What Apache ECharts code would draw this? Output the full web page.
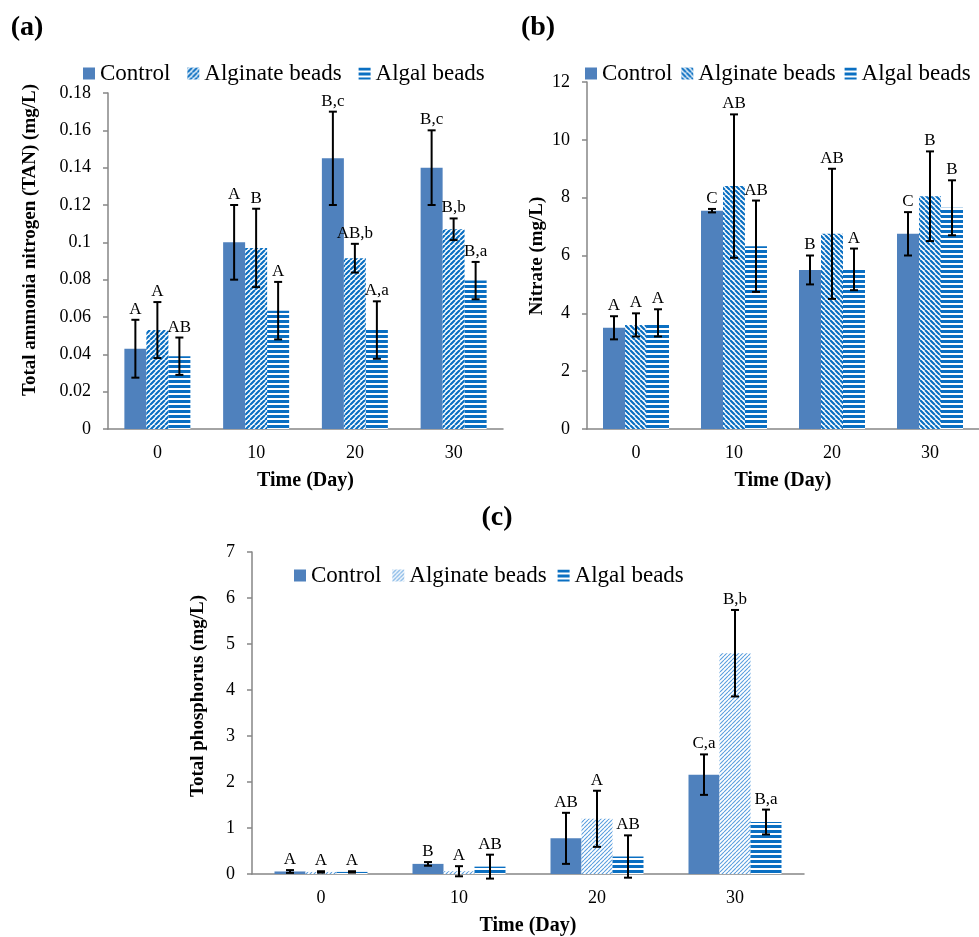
<!DOCTYPE html>
<html>
<head>
<meta charset="utf-8">
<script src="https://cdn.jsdelivr.net/npm/echarts@6/dist/echarts.min.js"></script>
<style>
  html, body { margin: 0; background: #fff; }
  #chart { width: 979px; height: 937px; }
</style>
</head>
<body>
<div id="chart"></div>
<script>
// categories
var days = ["0", "10", "20", "30"];

// (a) Total ammonia nitrogen (mg/L)
var tanControl = [0.043, 0.100, 0.145, 0.140];
var tanControlErr = [0.0155, 0.020, 0.025, 0.020];
var tanAlginate = [0.053, 0.097, 0.0915, 0.107];
var tanAlginateErr = [0.015, 0.021, 0.0077, 0.0058];
var tanAlgal = [0.039, 0.0634, 0.053, 0.0795];
var tanAlgalErr = [0.010, 0.0154, 0.0154, 0.010];
var tanControlLab = ["A", "A", "B,c", "B,c"];
var tanAlginateLab = ["A", "B", "AB,b", "B,b"];
var tanAlgalLab = ["AB", "A", "A,a", "B,a"];

// (b) Nitrate (mg/L)
var no3Control = [3.5, 7.55, 5.5, 6.75];
var no3ControlErr = [0.4, 0.06, 0.5, 0.75];
var no3Alginate = [3.6, 8.4, 6.75, 8.05];
var no3AlginateErr = [0.4, 2.48, 2.25, 1.55];
var no3Algal = [3.67, 6.32, 5.52, 7.65];
var no3AlgalErr = [0.47, 1.58, 0.72, 0.95];
var no3ControlLab = ["A", "C", "B", "C"];
var no3AlginateLab = ["A", "AB", "AB", "B"];
var no3AlgalLab = ["A", "AB", "A", "B"];

// (c) Total phosphorus (mg/L)
var tpControl = [0.055, 0.22, 0.775, 2.16];
var tpControlErr = [0.03, 0.04, 0.555, 0.44];
var tpAlginate = [0.045, 0.06, 1.2, 4.8];
var tpAlginateErr = [0.015, 0.11, 0.61, 0.94];
var tpAlgal = [0.045, 0.16, 0.38, 1.13];
var tpAlgalErr = [0.015, 0.26, 0.46, 0.27];
var tpControlLab = ["A", "B", "AB", "C,a"];
var tpAlginateLab = ["A", "A", "A", "B,b"];
var tpAlgalLab = ["A", "AB", "AB", "B,a"];

var FONT = '"Liberation Serif", "Times New Roman", serif';
var BLUE = "#4f81bd";
var STRIPE = "#0a6fc2";

// pattern tiles
function hatch(dir, color, lw, size) {
  var c = document.createElement("canvas");
  c.width = size; c.height = size;
  var g = c.getContext("2d");
  g.fillStyle = "#fff";
  g.fillRect(0, 0, size, size);
  g.strokeStyle = color;
  g.lineWidth = lw;
  g.beginPath();
  for (var k = -1; k <= 1; k++) {
    if (dir > 0) { g.moveTo(k * size, size); g.lineTo(k * size + size, 0); }
    else { g.moveTo(k * size, 0); g.lineTo(k * size + size, size); }
  }
  g.stroke();
  return c;
}
function hstripes(color, on, period) {
  var c = document.createElement("canvas");
  c.width = 4; c.height = period;
  var g = c.getContext("2d");
  g.fillStyle = "#fff";
  g.fillRect(0, 0, 4, period);
  g.fillStyle = color;
  g.fillRect(0, 0, 4, on);
  return c;
}
function pat(canvas) { return { image: canvas, repeat: "repeat" }; }

var patFwd = pat(hatch(1, STRIPE, 2.2, 5));
var patBack = pat(hatch(-1, STRIPE, 2.2, 5));
var patThin = pat(hatch(1, "#5a9ede", 1.1, 4));
var patH = pat(hstripes(STRIPE, 3, 5));

var series = [];

function panel(idx, key, groups, bw) {
  groups.forEach(function (gr) {
    series.push({
      type: "bar",
      name: key + gr.name,
      xAxisIndex: idx,
      yAxisIndex: idx,
      barWidth: bw,
      barGap: "0%",
      data: gr.vals,
      itemStyle: { color: gr.color },
      z: 2
    });
  });
  // error bars + letters
  groups.forEach(function (gr, k) {
    var off = (k - 1) * bw;
    series.push({
      type: "custom",
      xAxisIndex: idx,
      yAxisIndex: idx,
      z: 5,
      data: gr.vals.map(function (v, i) { return [i, v, gr.errs[i]]; }),
      renderItem: function (params, api) {
        var i = api.value(0), v = api.value(1), e = api.value(2);
        var t = api.coord([i, v + e]);
        var b = api.coord([i, v - e]);
        var x = t[0] + off;
        var cap = 4;
        var st = { stroke: "#000", lineWidth: 2 };
        return {
          type: "group",
          children: [
            { type: "line", shape: { x1: x, y1: t[1], x2: x, y2: b[1] }, style: st },
            { type: "line", shape: { x1: x - cap, y1: t[1], x2: x + cap, y2: t[1] }, style: st },
            { type: "line", shape: { x1: x - cap, y1: b[1], x2: x + cap, y2: b[1] }, style: st },
            {
              type: "text",
              style: {
                x: x, y: t[1] - 2,
                text: gr.labs[params.dataIndex],
                align: "center", verticalAlign: "bottom",
                font: "17px " + FONT, fill: "#000"
              }
            }
          ]
        };
      }
    });
  });
}

panel(0, "a:", [
  { name: "Control", vals: tanControl, errs: tanControlErr, labs: tanControlLab, color: BLUE },
  { name: "Alginate beads", vals: tanAlginate, errs: tanAlginateErr, labs: tanAlginateLab, color: patFwd },
  { name: "Algal beads", vals: tanAlgal, errs: tanAlgalErr, labs: tanAlgalLab, color: patH }
], 22);
panel(1, "b:", [
  { name: "Control", vals: no3Control, errs: no3ControlErr, labs: no3ControlLab, color: BLUE },
  { name: "Alginate beads", vals: no3Alginate, errs: no3AlginateErr, labs: no3AlginateLab, color: patBack },
  { name: "Algal beads", vals: no3Algal, errs: no3AlgalErr, labs: no3AlgalLab, color: patH }
], 22);
panel(2, "c:", [
  { name: "Control", vals: tpControl, errs: tpControlErr, labs: tpControlLab, color: BLUE },
  { name: "Alginate beads", vals: tpAlginate, errs: tpAlginateErr, labs: tpAlginateLab, color: patThin },
  { name: "Algal beads", vals: tpAlgal, errs: tpAlgalErr, labs: tpAlgalLab, color: patH }
], 31);

function xAxis(i) {
  return {
    type: "category", gridIndex: i, data: days,
    axisLine: { lineStyle: { color: "#868686", width: 1.5 } },
    axisTick: { length: 6, lineStyle: { color: "#868686", width: 1.5 } },
    axisLabel: { fontSize: 18, color: "#000", fontFamily: FONT, margin: 15 },
    name: "Time (Day)", nameLocation: "middle", nameGap: 42,
    nameTextStyle: { fontSize: 20, fontWeight: "bold", color: "#000", fontFamily: FONT }
  };
}
function yAxis(i, max, step) {
  return {
    type: "value", gridIndex: i, min: 0, max: max, interval: step,
    axisLine: { show: true, lineStyle: { color: "#868686", width: 1.5 } },
    axisTick: { show: true, length: 5, lineStyle: { color: "#868686", width: 1.5 } },
    splitLine: { show: false },
    axisLabel: { fontSize: 18, color: "#000", fontFamily: FONT, margin: 17 }
  };
}
function legend(key, left, top, gap) {
  return {
    data: [key + "Control", key + "Alginate beads", key + "Algal beads"],
    left: left, top: top, itemWidth: 12, itemHeight: 12, itemGap: gap,
    icon: "rect", padding: 0,
    formatter: function (n) { return n.slice(2); },
    textStyle: { fontSize: 23, color: "#000", fontFamily: FONT }
  };
}
function ttl(text, x, y, size, rot) {
  return {
    type: "text", x: x, y: y, rotation: rot || 0,
    style: { text: text, align: "center", verticalAlign: "middle", font: "bold " + size + "px " + FONT, fill: "#000" }
  };
}

var chart = echarts.init(document.getElementById("chart"));
chart.setOption({
  animation: false,
  backgroundColor: "#fff",
  grid: [
    { left: 108, top: 93, width: 395, height: 336 },
    { left: 587, top: 82, width: 398, height: 347 },
    { left: 252, top: 552, width: 552, height: 324 }
  ],
  xAxis: [xAxis(0), xAxis(1), xAxis(2)],
  yAxis: [yAxis(0, 0.18, 0.02), yAxis(1, 12, 2), yAxis(2, 7, 1)],
  legend: [legend("a:", 83, 62, 17), legend("b:", 585, 62, 9), legend("c:", 294, 564, 11)],
  graphic: [
    ttl("(a)", 27, 28, 28),
    ttl("(b)", 538, 28, 28),
    ttl("(c)", 497, 518, 28),
    ttl("Total ammonia nitrogen (TAN) (mg/L)", 30, 240, 19, Math.PI / 2),
    ttl("Nitrate (mg/L)", 537, 256, 19, Math.PI / 2),
    ttl("Total phosphorus (mg/L)", 198, 696, 19, Math.PI / 2)
  ],
  series: series
});
</script>
</body>
</html>
